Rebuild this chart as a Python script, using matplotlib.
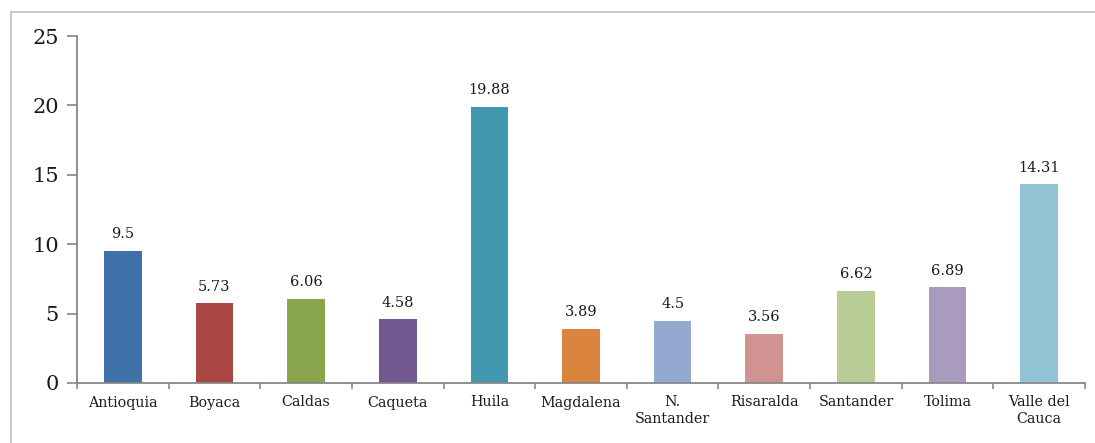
import matplotlib
matplotlib.use("Agg")
import matplotlib.pyplot as plt
from matplotlib.lines import Line2D

# departments and values
departamentos = ['Antioquia', 'Boyaca', 'Caldas', 'Caqueta', 'Huila', 'Magdalena',
                 'N.\nSantander', 'Risaralda', 'Santander', 'Tolima', 'Valle del\nCauca']
valores = [9.5, 5.73, 6.06, 4.58, 19.88, 3.89, 4.5, 3.56, 6.62, 6.89, 14.31]
etiquetas = ['9.5', '5.73', '6.06', '4.58', '19.88', '3.89', '4.5', '3.56', '6.62', '6.89', '14.31']
colores = ['#4070A8', '#AA4643', '#89A54E', '#71588F', '#4198AF', '#DB843D',
           '#93A9CF', '#D19392', '#B9CD96', '#A99BBD', '#92C3D5']

serif = ['DejaVu Serif']

fig = plt.figure(figsize=(10.95, 4.43), dpi=100)
ax = fig.add_axes([77 / 1095, 1 - 383 / 443, (1085 - 77) / 1095, (383 - 36) / 443])

x = list(range(len(valores)))
ax.bar(x, valores, width=0.41, color=colores, zorder=2)

for xi, v, lab in zip(x, valores, etiquetas):
    ax.annotate(lab, (xi, v), xytext=(0, 7), textcoords='offset points',
                ha='center', va='bottom', fontsize=10.5, family=serif,
                color='#1a1a1a', weight='medium')

ax.set_xlim(-0.5, len(valores) - 0.5)
ax.set_ylim(0, 25)
ax.set_yticks([0, 5, 10, 15, 20, 25])

# category labels centred, tick marks on the boundaries
ax.set_xticks(x)
ax.set_xticklabels(departamentos, fontsize=10.3, family=serif, color='#1a1a1a',
                   linespacing=1.2)
ax.tick_params(axis='x', length=0, pad=9)
ax.set_xticks([i - 0.5 for i in range(len(valores) + 1)], minor=True)
ax.tick_params(axis='x', which='minor', length=4, color='#888888', width=1.2)

for lab in ax.get_yticklabels():
    lab.set_family(serif)
ax.tick_params(axis='y', labelsize=15, length=7, color='#888888', width=1.2,
               pad=6, labelcolor='#1a1a1a')

for s in ['top', 'right']:
    ax.spines[s].set_visible(False)
for s in ['left', 'bottom']:
    ax.spines[s].set_color('#888888')
    ax.spines[s].set_linewidth(1.3)

# light frame of the original picture (left and top only)
fig.add_artist(Line2D([11 / 1095, 11 / 1095], [0, 1 - 12 / 443],
                      transform=fig.transFigure, color='#c4c4c4', lw=1.3))
fig.add_artist(Line2D([11 / 1095, 1], [1 - 12 / 443, 1 - 12 / 443],
                      transform=fig.transFigure, color='#c4c4c4', lw=1.3))

fig.savefig('out.png', dpi=100)
